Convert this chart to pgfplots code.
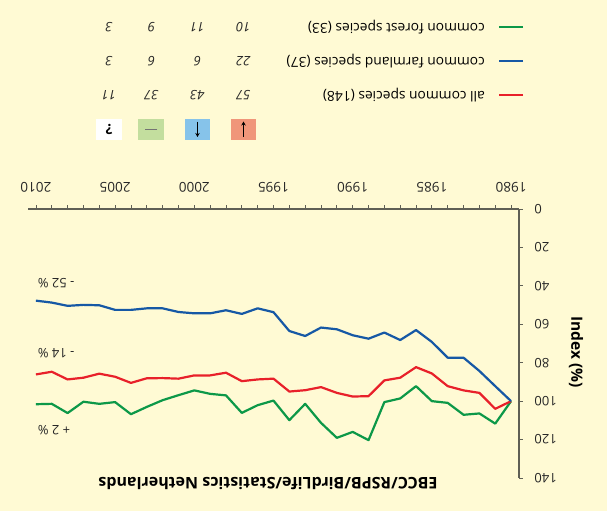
\documentclass[border=0pt]{standalone}
\usepackage{graphicx}
\usepackage{fontspec}
\setmainfont{Open Sans}
\usepackage{pgfplots}
\usepackage{pgfplotstable}
\pgfplotsset{compat=1.18}
\usetikzlibrary{arrows.meta}
\definecolor{bg}{RGB}{255,250,212}
\definecolor{cred}{RGB}{232,32,42}
\definecolor{cblue}{RGB}{22,88,165}
\definecolor{cgreen}{RGB}{12,152,72}
\definecolor{axgray}{RGB}{95,95,85}
\definecolor{boxor}{RGB}{240,150,122}
\definecolor{boxbl}{RGB}{134,195,234}
\definecolor{boxgr}{RGB}{195,222,158}
\pgfplotstableread{
year blue red green
1980 100 100 100
1981 92.2 104.0 111.7
1982 84.3 95.7 106.4
1983 77.4 94.4 107.1
1984 77.4 92.2 100.9
1985 69.2 85.6 100.0
1986 63.0 82.3 92.2
1987 68.2 87.8 98.6
1988 64.3 89.2 100.5
1989 67.5 97.4 120.3
1990 65.7 97.6 116.0
1991 62.6 95.7 119.1
1992 61.7 92.7 111.3
1993 66.1 94.3 101.4
1994 63.5 95.0 109.9
1995 53.7 88.3 99.7
1996 51.7 88.7 102.1
1997 54.6 89.6 106.1
1998 52.7 85.2 97.0
1999 54.3 86.6 96.2
2000 54.3 86.6 94.4
2001 53.6 88.3 96.9
2002 51.7 88.0 99.5
2003 51.7 88.1 103.0
2004 52.5 90.5 106.8
2005 52.5 87.3 100.5
2006 50.1 85.7 101.4
2007 49.9 87.8 100.3
2008 50.4 88.7 106.2
2009 48.7 84.7 101.4
2010 47.7 86.1 101.6
}\datatable
\begin{document}
\rotatebox{180}{%
\begin{tikzpicture}[x=1pt,y=1pt,font=\fontsize{13}{15}\selectfont]
\fill[bg] (0,0) rectangle (607,511);
\useasboundingbox (0,0) rectangle (607,511);
\begin{axis}[
  at={(88pt,209pt)}, anchor=south west,
  width=491pt, height=269pt, scale only axis,
  xmin=1979.5, xmax=2010.5, ymin=0, ymax=140,
  axis lines*=left,
  axis line style={axgray, line width=1.2pt},
  tick align=outside,
  major tick length=4pt, minor tick length=4pt,
  tick style={axgray, line width=0.8pt},
  xtick={1980,1985,...,2010},
  xticklabels={1980,1985,1990,1995,2000,2005,2010},
  minor xtick={1980,1981,...,2010},
  ytick={0,20,...,140},
  yticklabels={0,20,40,60,80,100,120,140},
  xticklabel style={font=\fontsize{13.5}{15}\selectfont, text=black!85, yshift=-9pt},
  yticklabel style={font=\fontsize{13}{15}\selectfont, text=black!85, xshift=-8pt},
  clip=false,
]
\addplot[cgreen, line width=2.2pt, line join=round] table[x=year,y=green]{\datatable};
\addplot[cred, line width=2.2pt, line join=round] table[x=year,y=red]{\datatable};
\addplot[cblue, line width=2.2pt, line join=round] table[x=year,y=blue]{\datatable};
\node[anchor=east, text=black!85] at (axis cs:2010.1,38.5) {- 52 \%};
\node[anchor=east, text=black!85] at (axis cs:2010.1,75) {- 14 \%};
\node[anchor=east, text=black!85] at (axis cs:2010.1,115) {+ 2 \%};
\end{axis}
\node[anchor=base, font=\fontsize{16}{18}\bfseries] at (339,477) {EBCC/RSPB/BirdLife/Statistics Netherlands};
\node[rotate=90, font=\fontsize{15.5}{18}\bfseries] at (31,352) {Index (\%)};
% legend
\draw[cred, line width=2.2pt] (84,95) -- (108,95);
\draw[cblue, line width=2.2pt] (84,61) -- (108,61);
\draw[cgreen, line width=2.2pt] (84,27) -- (108,27);
\begin{scope}[every node/.style={anchor=west, inner sep=0pt, font=\fontsize{13.8}{15}\selectfont}]
\node at (122,95) {all common species (148)};
\node at (122,61) {common farmland species (37)};
\node at (122,27) {common forest species (33)};
\end{scope}
\fill[boxor] (351,119) rectangle (376,140);
\fill[boxbl] (397,119) rectangle (422,140);
\fill[boxgr] (442.5,119) rectangle (468.5,140);
\fill[white] (485,119) rectangle (511,140);
\draw[-{Stealth[length=4pt,width=4.5pt]}, line width=1pt] (363.5,137) -- (363.5,121.5);
\draw[-{Stealth[length=4pt,width=4.5pt]}, line width=1pt] (409.5,121.5) -- (409.5,137);
\draw[line width=1.3pt, black!55] (449.5,129.5) -- (461.5,129.5);
\node[font=\fontsize{14}{15}\bfseries] at (498,129.5) {?};
\begin{scope}[every node/.style={font=\fontsize{13}{15}\itshape, text=black!85}]
\node at (363.5,95) {57}; \node at (409.5,95) {43}; \node at (455.5,95) {37}; \node at (498,95) {11};
\node at (363.5,61) {22}; \node at (409.5,61) {6}; \node at (455.5,61) {6}; \node at (498,61) {3};
\node at (363.5,27) {10}; \node at (409.5,27) {11}; \node at (455.5,27) {9}; \node at (498,27) {3};
\end{scope}
\end{tikzpicture}}
\end{document}
